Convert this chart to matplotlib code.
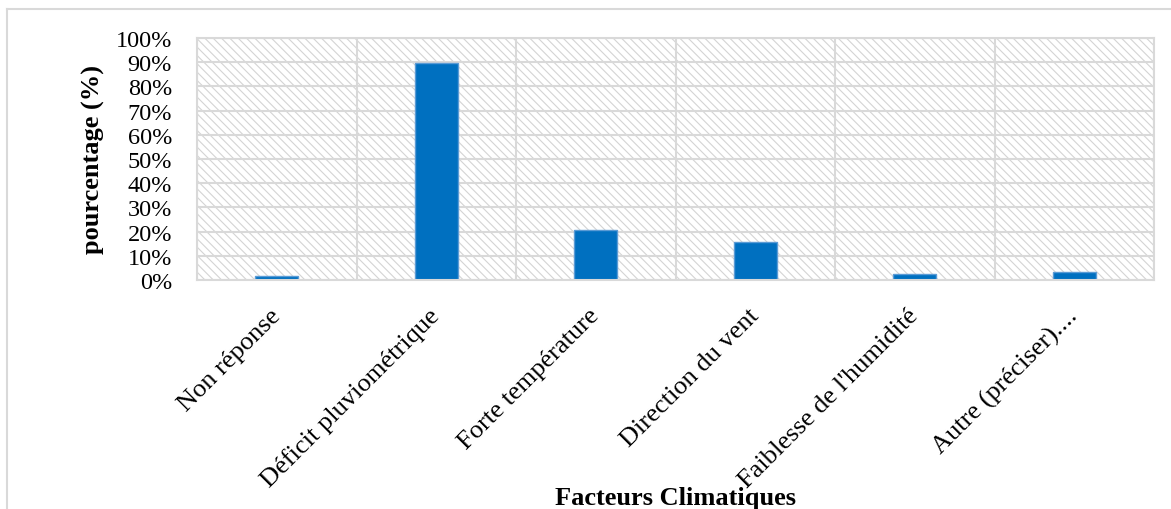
import matplotlib
matplotlib.use("Agg")
import matplotlib.pyplot as plt
import numpy as np
from matplotlib.patches import Rectangle
from matplotlib.lines import Line2D
from matplotlib.ticker import FuncFormatter

plt.rcParams['font.family'] = ['Liberation Serif', 'DejaVu Serif']
plt.rcParams['hatch.linewidth'] = 0.8

categories = ["Non réponse", "Déficit pluviométrique", "Forte température",
              "Direction du vent", "Faiblesse de l'humidité", "Autre (préciser)...."]
values = [1.5, 89.5, 20.8, 15.8, 2.3, 3.2]

GRID = '#d9d9d9'

fig = plt.figure(figsize=(11.71, 5.10), dpi=100)
ax = fig.add_axes([197/1171, 1 - 281/510, (1154 - 197)/1171, (281 - 39)/510])

# hatched plot background
bg = Rectangle((0, 0), 1, 1, transform=ax.transAxes, facecolor='white',
               edgecolor='#d4d4d4', hatch='\\\\\\\\', linewidth=0, zorder=0)
ax.add_patch(bg)

x = np.arange(len(categories))
ax.bar(x, values, width=0.27, color='#0070C0', edgecolor='#5B9BD5',
       linewidth=1, zorder=2)

ax.set_xlim(-0.5, len(categories) - 0.5)
ax.set_ylim(0, 100)
ax.set_yticks(np.arange(0, 101, 10))
ax.yaxis.set_major_formatter(FuncFormatter(lambda v, p: "%d%%" % v))
ax.set_xticks(x)
ax.set_xticks(np.arange(-0.5, len(categories), 1), minor=True)
ax.set_xticklabels(categories, rotation=45, ha='right', va='center',
                   rotation_mode='anchor', fontsize=19)
ax.tick_params(axis='both', which='both', length=0)
ax.tick_params(axis='y', labelsize=17.5, pad=18)
ax.tick_params(axis='x', pad=23)

ax.set_axisbelow(True)
ax.grid(axis='y', which='major', color=GRID, linewidth=1.5, zorder=1)
ax.grid(axis='x', which='minor', color=GRID, linewidth=1.5, zorder=1)
ax.grid(axis='x', which='major', visible=False)
for s in ax.spines.values():
    s.set_color(GRID)
    s.set_linewidth(1.5)

ax.set_ylabel("pourcentage (%)", fontsize=19, fontweight='bold', labelpad=8)
fig.text(0.5 * (197 + 1154) / 1171, 1 - 499/510, "Facteurs Climatiques",
         ha='center', va='center', fontsize=19, fontweight='bold')

# outer frame (left and top edges)
fig.add_artist(Line2D([6.5/1171, 6.5/1171], [0, 1 - 9.5/510], color=GRID, lw=1.5))
fig.add_artist(Line2D([6.5/1171, 1], [1 - 9.5/510, 1 - 9.5/510], color=GRID, lw=1.5))

fig.savefig("out.png", dpi=100)
